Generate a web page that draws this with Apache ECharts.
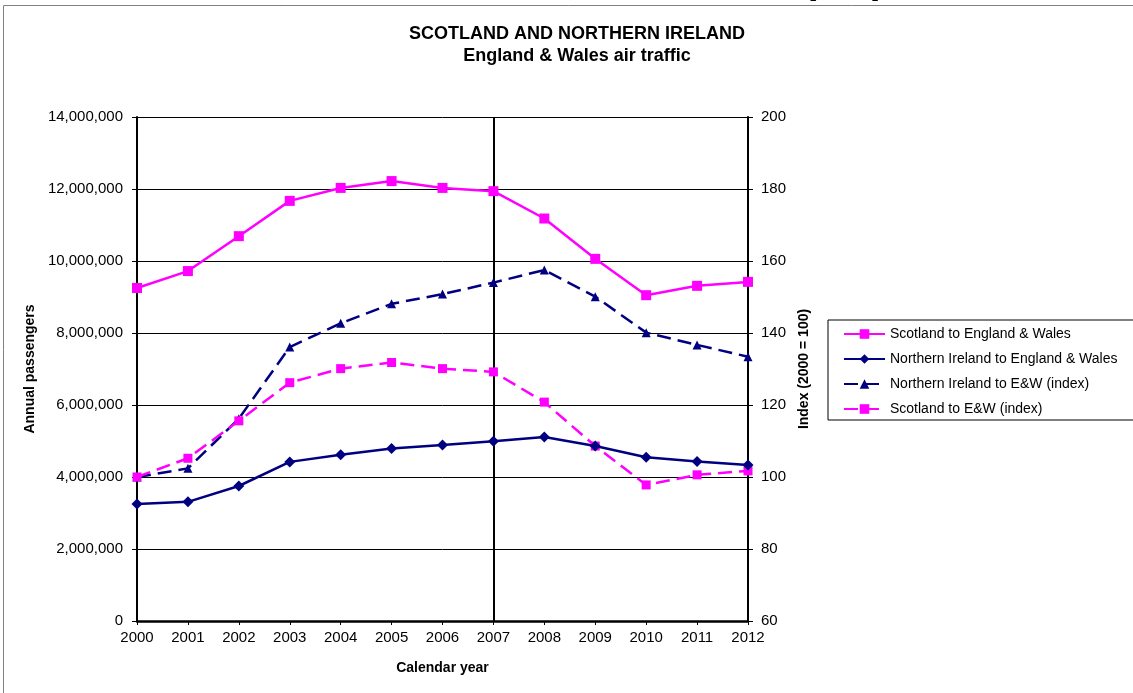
<!DOCTYPE html>
<html>
<head>
<meta charset="utf-8">
<title>Scotland and Northern Ireland – England &amp; Wales air traffic</title>
<script src="https://cdn.jsdelivr.net/npm/echarts@6/dist/echarts.min.js"></script>
<style>
  html, body { margin: 0; padding: 0; background: #ffffff; }
  #chart { width: 1133px; height: 693px; }
</style>
</head>
<body>
<div id="chart"></div>
<script>
// Calendar years on the x axis
const years = ['2000','2001','2002','2003','2004','2005','2006','2007','2008','2009','2010','2011','2012'];

// Annual passengers (left axis)
const scotlandPassengers = [9250000, 9720000, 10690000, 11670000, 12030000, 12220000, 12030000, 11940000, 11180000, 10060000, 9050000, 9310000, 9420000];
const niPassengers       = [3250000, 3310000, 3750000, 4420000, 4620000, 4790000, 4890000, 4990000, 5110000, 4860000, 4550000, 4430000, 4330000];

// Index values, 2000 = 100 (right axis)
const niIndex       = [100, 102.4, 116.2, 136.1, 142.7, 148.1, 150.8, 154.0, 157.5, 150.1, 140.1, 136.7, 133.4];
const scotlandIndex = [100, 105.2, 115.6, 126.2, 130.1, 131.8, 130.1, 129.2, 120.8, 108.6, 97.8, 100.6, 101.7];

// Series names as shown in the legend
const seriesNames = [
  'Scotland to England & Wales',
  'Northern Ireland to England & Wales',
  'Northern Ireland to E&W (index)',
  'Scotland to E&W (index)'
];

const MAGENTA = '#ff00ff';
const NAVY = '#000080';
const FONT = '"Liberation Sans", Arial, sans-serif';

function withCommas(v) {
  return String(v).replace(/\B(?=(\d{3})+(?!\d))/g, ',');
}

const chart = echarts.init(document.getElementById('chart'), null, { renderer: 'canvas' });

chart.setOption({
  backgroundColor: '#ffffff',
  animation: false,
  textStyle: { fontFamily: FONT, color: '#000' },
  title: {
    text: 'SCOTLAND AND NORTHERN IRELAND\nEngland & Wales air traffic',
    left: 572,
    textAlign: 'center',
    top: 18,
    textStyle: { fontFamily: FONT, fontSize: 18, fontWeight: 'bold', color: '#000', lineHeight: 22 }
  },
  graphic: [
    {
      type: 'rect',
      silent: true,
      shape: { x: 3.5, y: 5.5, width: 1300, height: 900 },
      style: { fill: 'none', stroke: '#808080', lineWidth: 1 }
    },
    {
      type: 'text',
      silent: true,
      left: 803,
      top: -38,
      style: { text: '(     )', font: 'bold 40px ' + FONT, fill: '#000' }
    }
  ],
  legend: {
    orient: 'vertical',
    left: 828,
    top: 320,
    itemWidth: 41,
    itemHeight: 12,
    itemGap: 11,
    padding: [7, 40, 4, 15],
    borderColor: '#000',
    borderWidth: 1,
    backgroundColor: '#fff',
    textStyle: { fontFamily: FONT, fontSize: 14, color: '#000' },
    data: seriesNames
  },
  grid: { left: 137, right: 385, top: 117, bottom: 72, containLabel: false },
  xAxis: {
    type: 'category',
    data: years,
    boundaryGap: false,
    name: 'Calendar year',
    nameLocation: 'middle',
    nameGap: 40,
    nameTextStyle: { fontFamily: FONT, fontSize: 14, fontWeight: 'bold', color: '#000' },
    axisLine: { lineStyle: { color: '#000', width: 2.5 } },
    axisTick: { show: true, length: 4, lineStyle: { color: '#000', width: 1 } },
    axisLabel: { fontFamily: FONT, fontSize: 15, color: '#000', margin: 9 },
    splitLine: { show: false }
  },
  yAxis: [
    {
      type: 'value',
      min: 0,
      max: 14000000,
      interval: 2000000,
      name: 'Annual passengers',
      nameLocation: 'middle',
      nameGap: 92,
      nameTextStyle: { fontFamily: FONT, fontSize: 14, fontWeight: 'bold', color: '#000' },
      axisLine: { show: true, lineStyle: { color: '#000', width: 2 } },
      axisTick: { show: true, length: 5, lineStyle: { color: '#000', width: 1 } },
      axisLabel: { fontFamily: FONT, fontSize: 15, color: '#000', margin: 14, formatter: withCommas },
      splitLine: { show: true, lineStyle: { color: '#000', width: 1 } }
    },
    {
      type: 'value',
      min: 60,
      max: 200,
      interval: 20,
      position: 'right',
      name: 'Index (2000 = 100)',
      nameLocation: 'middle',
      nameGap: 46,
      nameRotate: 90,
      nameTextStyle: { fontFamily: FONT, fontSize: 14, fontWeight: 'bold', color: '#000' },
      axisLine: { show: true, lineStyle: { color: '#000', width: 2 } },
      axisTick: { show: true, length: 5, lineStyle: { color: '#000', width: 1 } },
      axisLabel: { fontFamily: FONT, fontSize: 15, color: '#000', margin: 13 },
      splitLine: { show: false }
    }
  ],
  series: [
    {
      name: seriesNames[0],
      type: 'line',
      yAxisIndex: 0,
      data: scotlandPassengers,
      symbol: 'rect',
      symbolSize: 10,
      z: 5,
      lineStyle: { color: MAGENTA, width: 2.5 },
      itemStyle: { color: MAGENTA },
      markLine: {
        silent: true,
        symbol: 'none',
        label: { show: false },
        lineStyle: { color: '#000', width: 2, type: 'solid' },
        data: [{ xAxis: '2007' }],
        z: 1
      }
    },
    {
      name: seriesNames[1],
      type: 'line',
      yAxisIndex: 0,
      data: niPassengers,
      symbol: 'diamond',
      symbolSize: 11,
      z: 5,
      lineStyle: { color: NAVY, width: 2.5 },
      itemStyle: { color: NAVY }
    },
    {
      name: seriesNames[2],
      type: 'line',
      yAxisIndex: 1,
      data: niIndex,
      symbol: 'triangle',
      symbolSize: 9,
      z: 4,
      lineStyle: { color: NAVY, width: 2.5, type: [14, 7] },
      itemStyle: { color: NAVY }
    },
    {
      name: seriesNames[3],
      type: 'line',
      yAxisIndex: 1,
      data: scotlandIndex,
      symbol: 'rect',
      symbolSize: 9,
      z: 4,
      lineStyle: { color: MAGENTA, width: 2.5, type: [14, 7] },
      itemStyle: { color: MAGENTA }
    }
  ]
});
</script>
</body>
</html>
